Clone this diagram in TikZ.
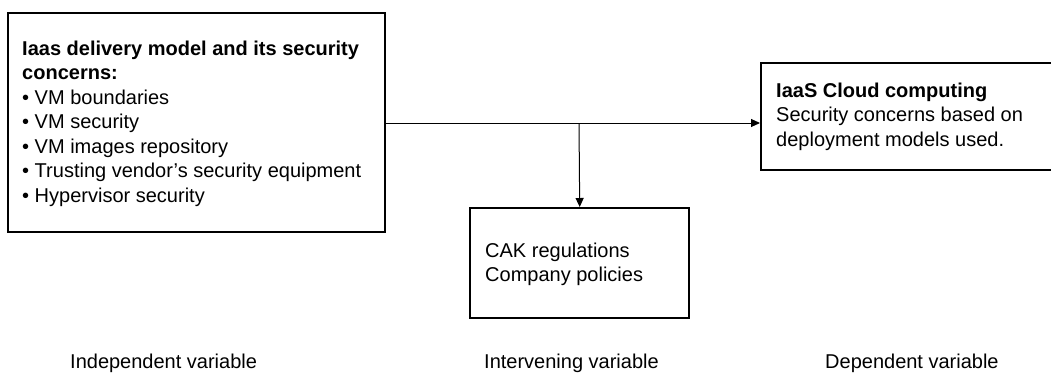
\documentclass[tikz,border=0pt]{standalone}
\usepackage{fontspec}
\setmainfont{Liberation Sans}
\usetikzlibrary{arrows.meta}
\begin{document}
\begin{tikzpicture}[x=1pt,y=-1pt,
  boxstyle/.style={draw=black,line width=2.4pt,inner sep=0pt,anchor=north west},
  txt/.style={anchor=north west,inner sep=0pt,font=\fontsize{20}{24.5}\selectfont,align=left},
  lbl/.style={anchor=base west,inner sep=0pt,font=\fontsize{20}{22}\selectfont},
  conn/.style={line width=1pt,-{Triangle[length=9pt,width=8pt]}}]
\useasboundingbox (0,0) rectangle (1051,373);
\clip (0,0) rectangle (1051,373);
\node[boxstyle,minimum width=377pt,minimum height=219pt] (L) at (7,12) {};
\node[boxstyle,minimum width=300pt,minimum height=107pt] (R) at (760,62) {};
\node[boxstyle,minimum width=219pt,minimum height=110pt] (M) at (469,207) {};
\node[txt] (Lt) at (22,40.7) {\textbf{Iaas delivery model and its security}\\\textbf{concerns:}\\• VM boundaries\\• VM security\\• VM images repository\\• Trusting vendor’s security equipment\\• Hypervisor security};
\node[txt] (Rt) at (776,82.7) {\textbf{IaaS Cloud computing}\\Security concerns based on\\deployment models used.};
\node[txt] (Mt) at (485,242.7) {CAK regulations\\Company policies};
\node[lbl] (l1) at (70,368) {Independent variable};
\node[lbl] (l2) at (484,368) {Intervening variable};
\node[lbl] (l3) at (825,368) {Dependent variable};
\coordinate (j) at (579,123);
\draw[conn] (L.east|-j) -- (R.west|-j);
\draw[conn] (j) -- (M.north);
\end{tikzpicture}
\end{document}
